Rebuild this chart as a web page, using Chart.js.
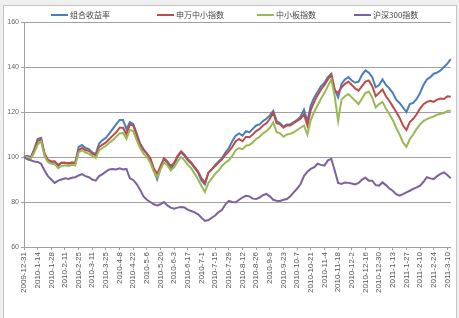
<!DOCTYPE html>
<html>
<head>
<meta charset="utf-8">
<script src="https://cdn.jsdelivr.net/npm/chart.js@4/dist/chart.umd.min.js"></script>
<style>
  html, body { margin: 0; padding: 0; background: #efefef; }
  #wrap { position: relative; width: 459px; height: 318px; overflow: hidden; }
  #frame { position: absolute; left: 3px; top: 5px; width: 452px; height: 318px; background: #fff; border: 1px solid #c4c4c4; }
  #c { position: absolute; left: 0; top: 0; }
  .lg { position: absolute; top: 9px; font: 8px "Noto Sans CJK SC", sans-serif; color: #444; white-space: nowrap; line-height: 12px; }
  .lg i { display: inline-block; width: 17px; height: 2px; vertical-align: middle; margin-right: 2px; position: relative; top: -1px; }
</style>
</head>
<body>
<div id="wrap">
  <div id="frame"></div>
  <canvas id="c" width="459" height="318"></canvas>
  <div id="legend"></div>
</div>
<script>
const seriesNames = ["组合收益率", "申万中小指数", "中小板指数", "沪深300指数"];
const tickLabels = ["2009-12-31","2010-1-14","2010-1-28","2010-2-11","2010-2-25","2010-3-11","2010-3-25","2010-4-8","2010-4-22","2010-5-6","2010-5-20","2010-6-3","2010-6-17","2010-7-1","2010-7-15","2010-7-29","2010-8-12","2010-8-26","2010-9-9","2010-9-23","2010-10-7","2010-10-21","2010-11-4","2010-11-18","2010-12-2","2010-12-16","2010-12-30","2011-1-13","2011-1-27","2011-2-10","2011-2-24","2011-3-10"];
const portfolio = [100,100.5,99.8,103.5,108,108.5,101.5,98.5,97.8,98,96,97.5,97.5,97,97.5,97.2,104.5,105.3,104,103.5,102,101.3,106,107.5,108.5,110.5,112.5,114.5,116.5,116.5,112.4,115.5,114.7,110.5,106,103.5,101.5,99,94,90,95,99,97.5,94.5,97,100,102,100.5,98.5,97,95,93,89.5,87.8,93,94.5,96.5,98,99.5,102,104,107,109.5,110.5,109.5,111.5,111,112.5,114,114.5,116,117,118.5,120.5,116,115,113.5,114.5,114.5,115.5,116.5,118,121,116,123,126.5,129,131.5,133,135.5,137,130,126.5,132.5,134.5,135.5,134,133,133.5,136.5,138.5,137.5,135.5,131,132,134.5,132,130.5,128.5,125.5,124,122,120,123.5,124,125.8,128.5,132,134.5,135.5,137,137.5,138.5,140,141.5,143.5];
const swSmallCap = [100,100.3,99.6,103,107,108,101.5,98.8,98,98,96.5,97.5,97.5,97.2,97.5,97.3,103,104,103,102.8,101.5,100.8,104.5,105.5,106.5,108,109.5,111,113,113,110,114.5,114,109.5,105.5,103,101.5,99.5,95,92.5,96,99.5,98,96,97.5,100.5,102.5,101,99,97.5,95.5,93.5,90.5,88.5,93,94.5,96,97.5,99,101,102.5,104.5,107,108,107,109,108.8,110,111.5,112.5,114,115,117,119.8,115,114.5,113,114,114,115,116,117,119,114,121,124.5,127.5,130,132,134.5,136.5,129.5,128.5,131,132.5,133.5,132,130.5,129.5,131.5,133.5,134,131.5,127,128.5,130,127,125,122.5,120,117.5,114,112,115.5,117,119,121.5,123.5,124.5,125,124.5,125.5,126,125.8,127,126.8];
const smeBoard = [100,100,99.2,102,105.5,107,100.5,97.8,97,96.8,95,96,96.3,96,96.5,96.2,102,103,102,101.5,100.5,99.5,103,104,105,106.3,107.5,109,110.5,110.7,108,112,111.5,107.5,104,101.5,100,97.5,93.5,91,94.5,97.5,96.3,94,95.5,98,100,98.5,96.5,95,92.5,90,87,84.5,88.5,90.5,92.5,94,96,97.5,98.5,100.5,103,104,103.5,105,105.3,106.5,108,109,110.5,111.5,113,115.4,111,110.5,109,110,110.3,111,112,113,114,110,116.5,120,123,126,128.5,131.5,134.5,127,116,125.5,127,128,126.5,125,123.5,126,128.5,129,126.5,122,123.5,124.5,121.5,119,116.5,113,110,106.5,104.5,108,110,112.5,114.5,116,116.8,117.5,118,118.8,119.2,119.5,120.5,120.6];
const csi300 = [100,99,98.5,98,97.8,97,94,91.5,90,88.5,89.5,90,90.5,90.2,90.8,91,91.8,92.4,91.5,91,90,89.5,91.5,92.4,93.5,94.5,94.7,94.5,95,94.5,94.7,90.5,89.8,88,85.5,82.5,81,80,79,78.5,79,80,78.5,77.5,77,77.5,77.8,77.6,76.5,76,75.4,74.5,73,71.6,72,73,74,75.5,76.5,79,80.5,80,79.9,81,82,82.8,82.5,81.5,81.3,82,83,83.6,82.5,81,80.6,80.5,81,81.3,82.5,84.3,86,88,91.5,93.5,94.7,95.5,97,96.5,96.2,98.5,99.2,94,88.5,88,88.7,88.5,88.2,87.8,88.5,90,90.8,89.5,89.5,87.5,87.3,88.7,87.5,86,85,83.5,82.8,83.5,84.3,85,85.8,86.5,87.3,89,91,90.5,90.2,91.5,92.5,93.2,92,90.5];
const colors = ["#4A7EBB", "#BE4B48", "#98B954", "#7D60A0"];

const pointsPerTick = 4;
const categories = portfolio.map((v, i) => (i % pointsPerTick === 0 && tickLabels[i / pointsPerTick]) ? tickLabels[i / pointsPerTick] : "");

// HTML legend
const legendX = [51, 157, 257, 354];
const lg = document.getElementById("legend");
seriesNames.forEach((n, k) => {
  const d = document.createElement("div");
  d.className = "lg";
  d.style.left = legendX[k] + "px";
  d.innerHTML = '<i style="background:' + colors[k] + '"></i>' + n;
  lg.appendChild(d);
});

const allSeries = [portfolio, swSmallCap, smeBoard, csi300];
new Chart(document.getElementById("c"), {
  type: "line",
  data: {
    labels: categories,
    datasets: allSeries.map((d, k) => ({
      label: seriesNames[k],
      data: d,
      borderColor: colors[k],
      backgroundColor: colors[k],
      borderWidth: 2,
      pointRadius: 0,
      tension: 0,
      fill: false
    })).reverse()
  },
  options: {
    responsive: false,
    animation: false,
    layout: { padding: { top: 22, right: 3, left: 0, bottom: 0 } },
    plugins: { legend: { display: false }, tooltip: { enabled: false } },
    scales: {
      x: {
        type: "category",
        offset: false,
        afterFit: (s) => { s.height = 71; },
        grid: { display: true, drawOnChartArea: false, drawTicks: true, tickLength: 3, color: "#a0a0a0" },
        border: { display: true, color: "#a0a0a0" },
        ticks: {
          autoSkip: false,
          maxRotation: 90,
          minRotation: 90,
          padding: 2,
          color: "#555",
          font: { family: "Liberation Sans", size: 8 },
          callback: function(v, i) { const l = categories[i]; return l ? l : null; }
        }
      },
      y: {
        min: 60,
        max: 160,
        afterFit: (s) => { s.width = 24; },
        grid: { color: "#a0a0a0", tickLength: 3 },
        border: { display: true, color: "#a0a0a0" },
        ticks: { stepSize: 20, padding: 2, color: "#666", font: { family: "Liberation Sans", size: 7 } }
      }
    }
  }
});
</script>
</body>
</html>
